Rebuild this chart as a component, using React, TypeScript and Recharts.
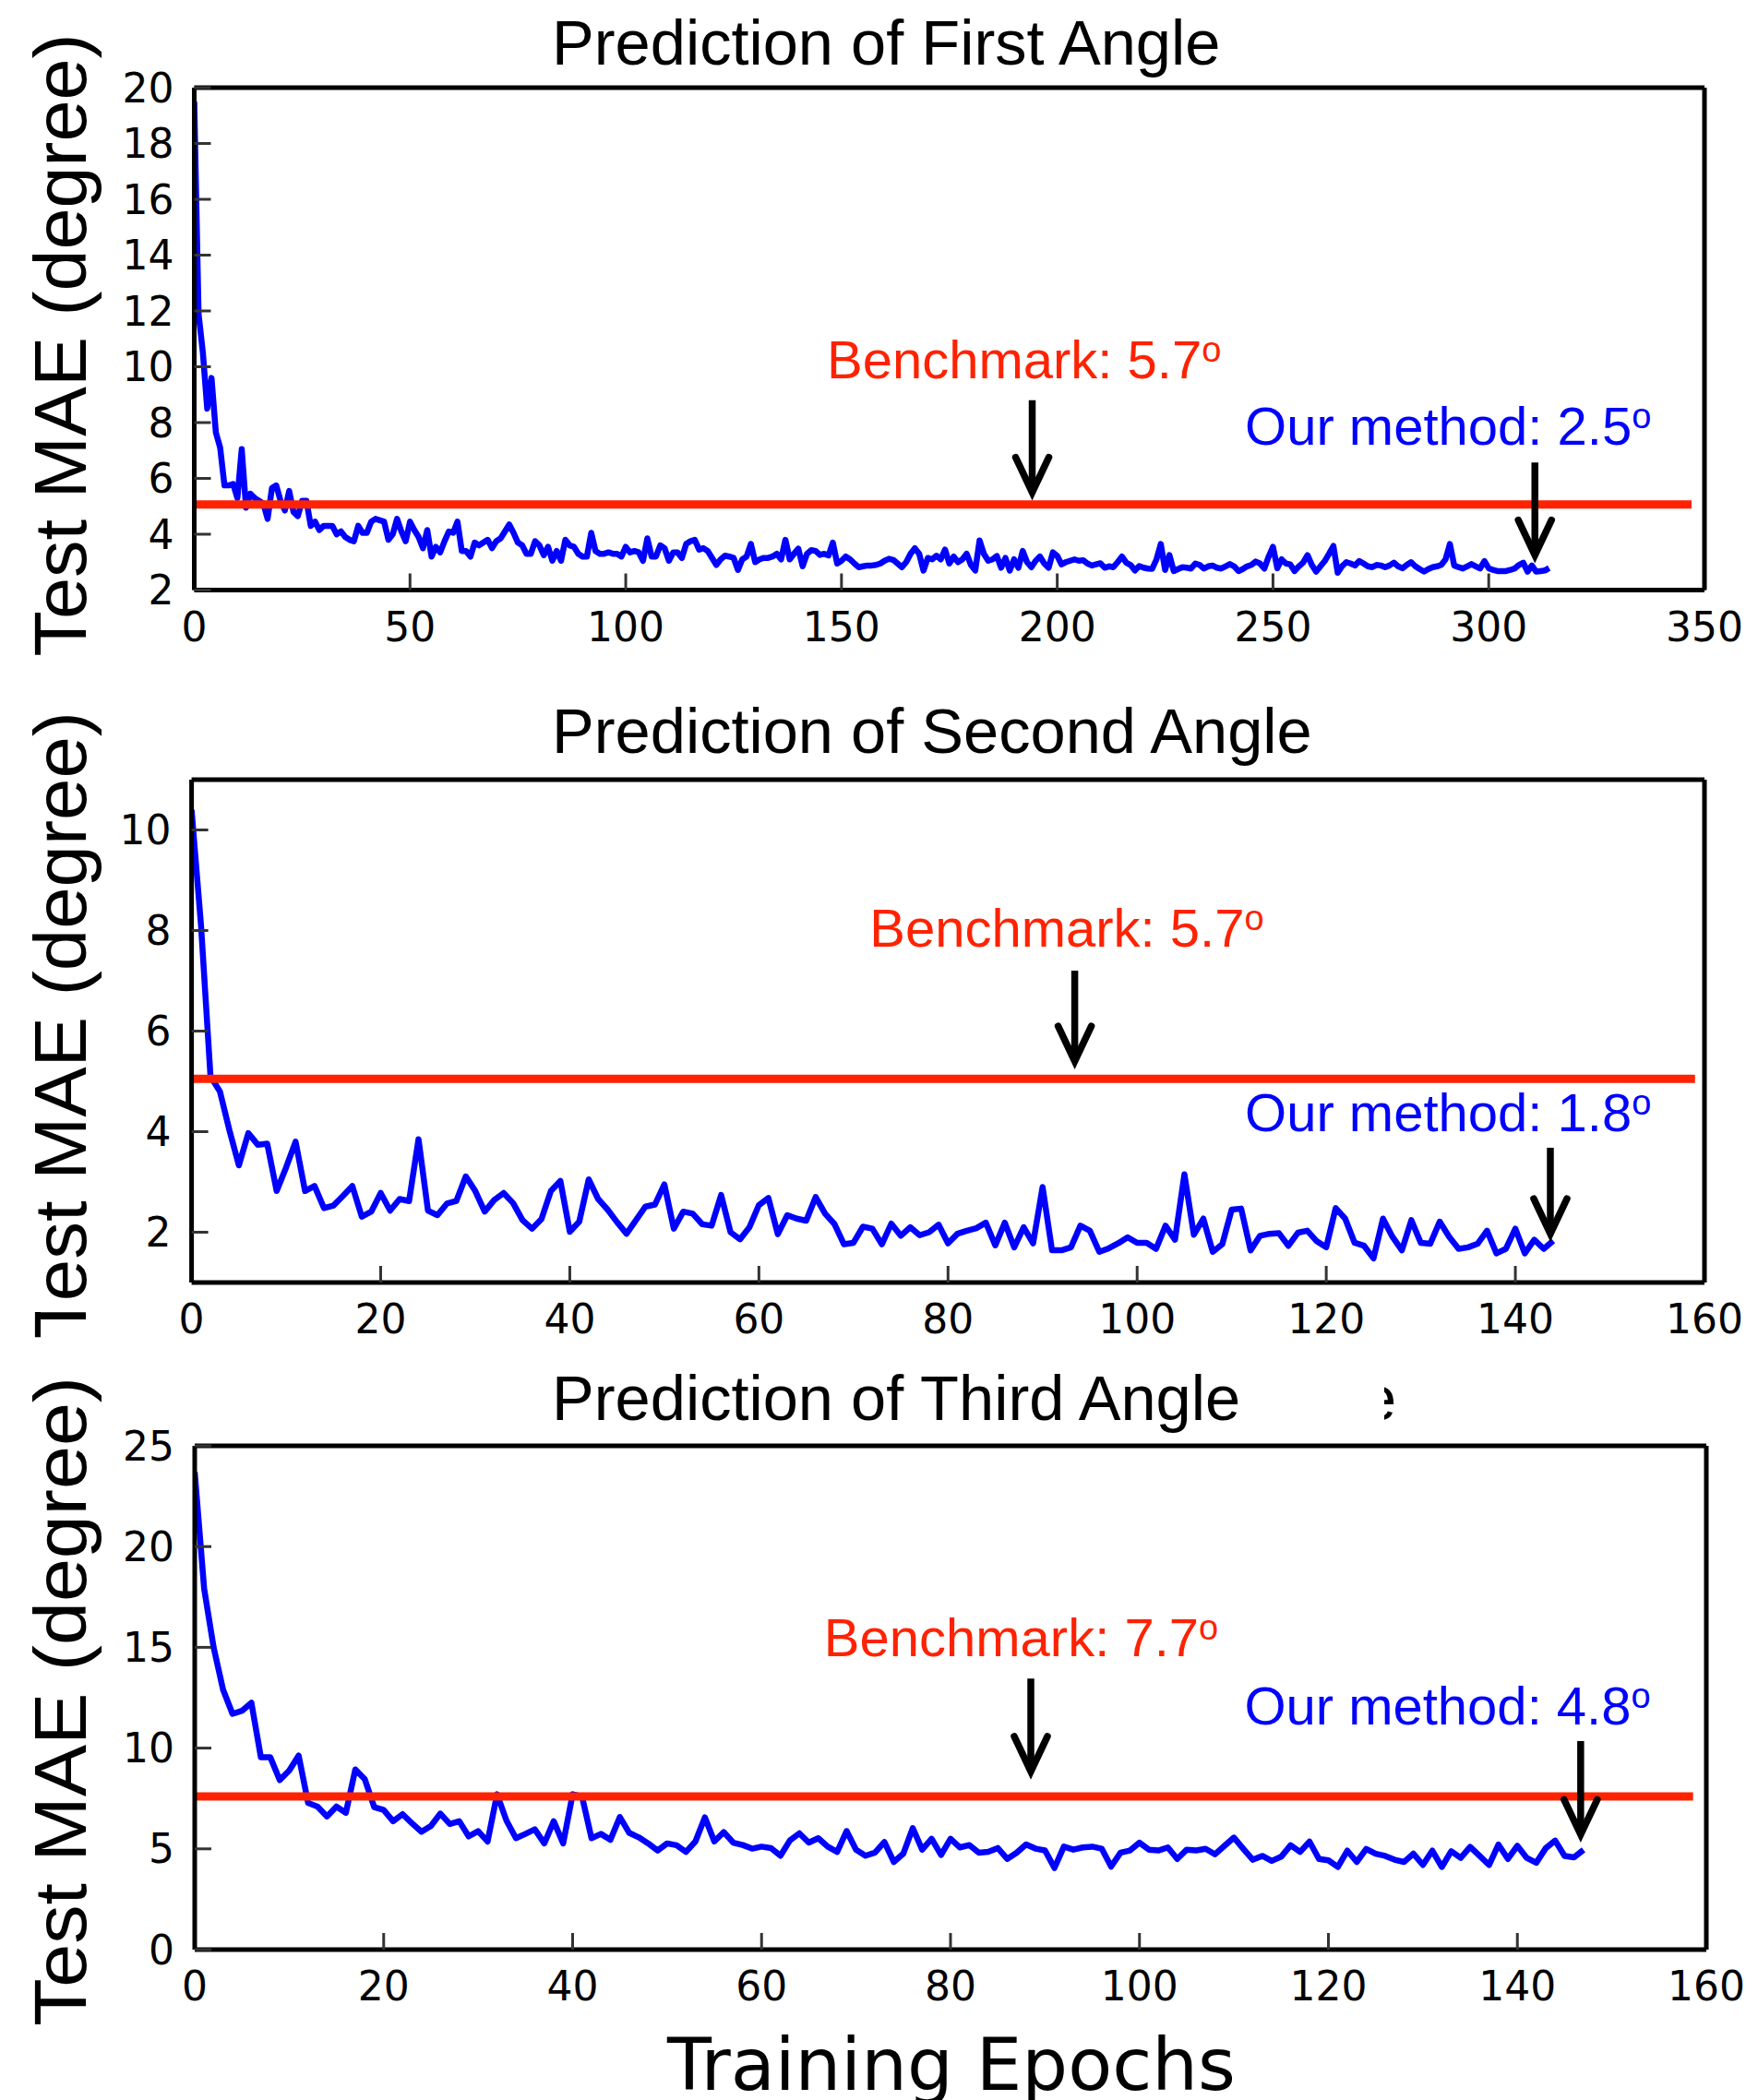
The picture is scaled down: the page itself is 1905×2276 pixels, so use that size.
import React from 'react';
import { LineChart, Line, XAxis, YAxis, ReferenceLine, ReferenceDot } from 'recharts';

// ---------- data ----------
const mae1 = [
  19.5, 11.9, 10.5, 8.5, 9.6, 7.65, 7.1, 5.75, 5.75, 5.8,
  5.3, 7.05, 4.95, 5.45, 5.3, 5.2, 5.1, 4.55, 5.65, 5.75,
  5.2, 4.85, 5.55, 4.8, 4.65, 5.2, 5.2, 4.3, 4.45, 4.15,
  4.3, 4.3, 4.3, 4.0, 4.1, 3.9, 3.8, 3.75, 4.3, 4.05,
  4.05, 4.45, 4.55, 4.5, 4.45, 3.8, 4.0, 4.55, 4.1, 3.75,
  4.45, 4.15, 3.9, 3.5, 4.15, 3.2, 3.55, 3.35, 3.75, 4.1,
  4.05, 4.45, 3.4, 3.4, 3.2, 3.7, 3.6, 3.7, 3.8, 3.5,
  3.75, 3.85, 4.1, 4.35, 4.05, 3.7, 3.6, 3.3, 3.3, 3.75,
  3.6, 3.25, 3.55, 3.05, 3.4, 3.05, 3.8, 3.6, 3.55, 3.3,
  3.2, 3.2, 4.05, 3.4, 3.3, 3.3, 3.35, 3.3, 3.3, 3.2,
  3.55, 3.35, 3.4, 3.35, 3.05, 3.85, 3.2, 3.2, 3.6, 3.5,
  3.05, 3.35, 3.35, 3.15, 3.65, 3.75, 3.8, 3.45, 3.5, 3.4,
  3.15, 2.9, 3.1, 3.23, 3.2, 3.15, 2.72, 3.1, 3.2, 3.65,
  3.0, 3.1, 3.15, 3.15, 3.2, 3.3, 3.1, 3.8, 3.1, 3.3,
  3.48, 2.85, 3.3, 3.43, 3.4, 3.26, 3.3, 3.24, 3.7, 2.95,
  3.05, 3.2, 3.1, 2.95, 2.82, 2.85, 2.88, 2.88, 2.9, 2.95,
  3.05, 3.12, 3.08, 2.95, 2.82, 3.0, 3.3, 3.5, 3.3, 2.7,
  3.15, 3.1, 3.23, 3.1, 3.45, 2.95, 3.2, 3.0, 3.1, 3.3,
  2.9, 2.7, 3.78, 3.3, 3.05, 3.1, 3.22, 2.8, 3.15, 2.7,
  3.1, 2.8, 3.4, 3.0, 2.82, 3.05, 3.2, 2.95, 2.8, 3.35,
  3.22, 2.92, 3.0, 3.05, 3.1, 3.05, 3.07, 2.95, 2.88, 2.92,
  2.96, 2.8, 2.85, 2.82, 3.0, 3.2, 2.98, 2.9, 2.7, 2.86,
  2.8, 2.77, 2.76, 3.1, 3.65, 2.72, 3.25, 2.68, 2.75, 2.82,
  2.8, 2.77, 2.95, 2.9, 2.77, 2.85, 2.88, 2.8, 2.77, 2.85,
  2.93, 2.85, 2.68, 2.75, 2.85, 2.9, 3.02, 2.95, 2.77, 3.2,
  3.55, 2.78, 3.1, 2.95, 2.92, 2.68, 2.85, 2.99, 3.25, 2.9,
  2.66, 2.85, 3.04, 3.3, 3.58, 2.62, 2.85, 3.0, 2.95, 2.88,
  3.04, 2.95, 2.85, 2.82, 2.9, 2.88, 2.82, 2.88, 2.98, 2.85,
  2.78, 2.9, 3.0, 2.85, 2.75, 2.66, 2.75, 2.82, 2.85, 2.9,
  3.1, 3.65, 2.88, 2.82, 2.77, 2.85, 2.93, 2.85, 2.77, 3.04,
  2.78, 2.72, 2.68, 2.68, 2.68, 2.72, 2.77, 2.9, 2.98, 2.66,
  2.88, 2.66, 2.68, 2.7, 2.79,
];

const mae2 = [
  10.4, 8.1, 5.1, 4.8, 4.03, 3.33, 3.97, 3.74, 3.76, 2.82,
  3.29, 3.8, 2.82, 2.92, 2.48, 2.53, 2.72, 2.92, 2.31, 2.41,
  2.78, 2.43, 2.66, 2.62, 3.85, 2.43, 2.34, 2.57, 2.62, 3.11,
  2.82, 2.41, 2.64, 2.78, 2.58, 2.24, 2.07, 2.26, 2.82, 3.02,
  2.01, 2.21, 3.05, 2.66, 2.45, 2.2, 1.97, 2.24, 2.51, 2.55,
  2.95, 2.07, 2.41, 2.37, 2.16, 2.13, 2.74, 2.0, 1.86, 2.1,
  2.54, 2.68, 1.96, 2.34, 2.27, 2.23, 2.7, 2.37, 2.16, 1.76,
  1.79, 2.11, 2.07, 1.76, 2.17, 1.93, 2.1, 1.94, 2.0, 2.15,
  1.78, 1.97, 2.03, 2.08, 2.19, 1.74, 2.19, 1.7, 2.1, 1.78,
  2.9, 1.64, 1.64, 1.7, 2.13, 2.03, 1.61, 1.68, 1.78, 1.9,
  1.79, 1.79, 1.67, 2.13, 1.85, 3.15, 1.95, 2.27, 1.61, 1.76,
  2.45, 2.47, 1.64, 1.93, 1.97, 1.98, 1.73, 1.99, 2.03, 1.82,
  1.7, 2.48, 2.27, 1.79, 1.73, 1.48, 2.27, 1.91, 1.64, 2.24,
  1.79, 1.77, 2.21, 1.91, 1.67, 1.7, 1.77, 2.03, 1.58, 1.67,
  2.07, 1.58, 1.85, 1.67, 1.83,
];

const mae3 = [
  23.7, 17.9, 15.0, 12.9, 11.7, 11.85, 12.25, 9.55, 9.55, 8.41,
  8.88, 9.63, 7.28, 7.1, 6.61, 7.1, 6.79, 8.94, 8.46, 7.07,
  6.93, 6.37, 6.72, 6.27, 5.85, 6.14, 6.75, 6.23, 6.37, 5.62,
  5.88, 5.36, 7.71, 6.4, 5.53, 5.74, 5.97, 5.27, 6.37, 5.27,
  7.71, 7.59, 5.53, 5.74, 5.45, 6.58, 5.79, 5.57, 5.27, 4.92,
  5.27, 5.18, 4.85, 5.37, 6.56, 5.37, 5.83, 5.31, 5.19, 5.01,
  5.11, 5.04, 4.66, 5.42, 5.77, 5.31, 5.53, 5.11, 4.85, 5.88,
  4.96, 4.66, 4.81, 5.34, 4.35, 4.76, 6.03, 4.96, 5.5, 4.7,
  5.5, 5.07, 5.19, 4.81, 4.85, 5.04, 4.5, 4.81, 5.22, 5.01,
  4.92, 4.05, 5.11, 4.96, 5.07, 5.11, 5.01, 4.12, 4.81, 4.92,
  5.31, 4.96, 4.92, 5.07, 4.5, 4.96, 4.92, 5.0, 4.73, 5.15,
  5.56, 5.0, 4.46, 4.65, 4.4, 4.61, 5.18, 4.85, 5.36, 4.5,
  4.43, 4.1, 4.91, 4.35, 5.0, 4.76, 4.65, 4.46, 4.35, 4.76,
  4.2, 4.91, 4.1, 4.88, 4.55, 5.1, 4.65, 4.2, 5.21, 4.5,
  5.15, 4.55, 4.31, 5.03, 5.41, 4.65, 4.58, 4.95,
];

const xTicks1 = [0, 50, 100, 150, 200, 250, 300, 350];
const yTicks1 = [2, 4, 6, 8, 10, 12, 14, 16, 18, 20];
const xTicks23 = [0, 20, 40, 60, 80, 100, 120, 140, 160];
const yTicks2 = [2, 4, 6, 8, 10];
const yTicks3 = [0, 5, 10, 15, 20, 25];

const titles = ['Prediction of First Angle', 'Prediction of Second Angle', 'Prediction of Third Angle'];
const benchmarkLevels = [5.07, 5.05, 7.6];
const benchmarkLabels = ['5.7', '5.7', '7.7'];
const ourLabels = ['2.5', '1.8', '4.8'];
const yLabel = 'Test MAE (degree)';
const xLabel = 'Training Epochs';

// ---------- panel configuration (layout) ----------
const panels = [
  {
    values: mae1, xDomain: [0, 350], xTicks: xTicks1, yDomain: [2, 20], yTicks: yTicks1,
    box: { L: 210.5, R: 1847, T: 94.5, B: 639 }, benchEnd: 347,
    benchText: [146.6, 9.58], benchArrow: [194.2, 8.8, 5.5],
    ourText: [243.5, 7.2], ourArrow: [310.7, 6.57, 3.25],
  },
  {
    values: mae2, xDomain: [0, 160], xTicks: xTicks23, yDomain: [1, 11], yTicks: yTicks2,
    box: { L: 207.6, R: 1847, T: 845, B: 1390 }, benchEnd: 159,
    benchText: [71.7, 7.68], benchArrow: [93.4, 7.2, 5.4],
    ourText: [111.4, 4.01], ourArrow: [143.7, 3.68, 1.97],
  },
  {
    values: mae3, xDomain: [0, 160], xTicks: xTicks23, yDomain: [0, 25], yTicks: yTicks3,
    box: { L: 211, R: 1849, T: 1567, B: 2113 }, benchEnd: 158.6,
    benchText: [66.6, 14.56], benchArrow: [88.5, 13.45, 8.84],
    ourText: [111.1, 11.17], ourArrow: [146.7, 10.35, 5.71],
  },
];

const W = 1905;
const RED = '#ff2200';
const BLUE = '#0000ff';
const SANS = 'Liberation Sans, Arial, sans-serif';
const tickFont = { fill: '#000', fontSize: 44, fontFamily: 'DejaVu Sans' };
const tickLineStyle = { stroke: '#333', strokeWidth: 3 };
const frame = { stroke: '#000', strokeWidth: 5 };

const Arrow = (props: any) => {
  const { x1, y1, x2, y2 } = props;
  return (
    <g>
      <line x1={x1} y1={y1} x2={x2} y2={y2 - 6} stroke="#000" strokeWidth={7.5} />
      <path
        d={`M ${x2 - 18} ${y2 - 38} L ${x2} ${y2} L ${x2 + 18} ${y2 - 38}`}
        fill="none" stroke="#000" strokeWidth={7.5} strokeLinecap="round" strokeLinejoin="miter"
      />
    </g>
  );
};

const makeLabel = (head: string, value: string, color: string) => (p: any) => (
  <text x={p.cx} y={p.cy} fontFamily={SANS} fontSize={58} fill={color}>
    {head}
    {value}
    <tspan fontSize={38} dy={-18}>o</tspan>
  </text>
);

function Panel({ cfg, idx }: { cfg: any; idx: number }) {
  const data = cfg.values.map((v: number, i: number) => ({ epoch: i, mae: v }));
  const { L, R, T, B } = cfg.box;
  const topH = 40;
  const botH = 90;
  const height = B - T + topH + botH;
  const bench = benchmarkLevels[idx];
  return (
    <div style={{ position: 'absolute', left: 0, top: T - topH }}>
      <LineChart width={W} height={height} data={data} margin={{ top: 0, right: 0, bottom: 0, left: 0 }}>
        <XAxis
          xAxisId="b" dataKey="epoch" type="number" domain={cfg.xDomain} ticks={cfg.xTicks}
          interval={0} orientation="bottom" height={botH} tickSize={-18} tickMargin={42}
          tick={tickFont} tickLine={tickLineStyle} axisLine={frame} allowDataOverflow
        />
        <XAxis
          xAxisId="t" dataKey="epoch" type="number" domain={cfg.xDomain} ticks={cfg.xTicks}
          interval={0} orientation="top" height={topH} tickSize={-18}
          tick={false} tickLine={tickLineStyle} axisLine={frame} allowDataOverflow
        />
        <YAxis
          yAxisId="l" type="number" domain={cfg.yDomain} ticks={cfg.yTicks} interval={0}
          orientation="left" width={L} tickSize={-18} tickMargin={40}
          tick={tickFont} tickLine={tickLineStyle} axisLine={frame} allowDataOverflow
        />
        <YAxis
          yAxisId="r" type="number" domain={cfg.yDomain} ticks={cfg.yTicks} interval={0}
          orientation="right" width={W - R} tickSize={-18}
          tick={false} tickLine={tickLineStyle} axisLine={frame} allowDataOverflow
        />
        <Line
          xAxisId="b" yAxisId="l" type="linear" dataKey="mae" stroke={BLUE} strokeWidth={6.5}
          strokeLinejoin="round" dot={false} activeDot={false} isAnimationActive={false}
        />
        <ReferenceLine
          xAxisId="b" yAxisId="l"
          segment={[{ x: 0, y: bench }, { x: cfg.benchEnd, y: bench }]}
          stroke={RED} strokeWidth={9}
        />
        <ReferenceLine
          xAxisId="b" yAxisId="l"
          segment={[{ x: cfg.benchArrow[0], y: cfg.benchArrow[1] }, { x: cfg.benchArrow[0], y: cfg.benchArrow[2] }]}
          shape={Arrow}
        />
        <ReferenceLine
          xAxisId="b" yAxisId="l"
          segment={[{ x: cfg.ourArrow[0], y: cfg.ourArrow[1] }, { x: cfg.ourArrow[0], y: cfg.ourArrow[2] }]}
          shape={Arrow}
        />
        <ReferenceDot
          xAxisId="b" yAxisId="l" x={cfg.benchText[0]} y={cfg.benchText[1]} r={0}
          shape={makeLabel('Benchmark: ', benchmarkLabels[idx], RED)}
        />
        <ReferenceDot
          xAxisId="b" yAxisId="l" x={cfg.ourText[0]} y={cfg.ourText[1]} r={0}
          shape={makeLabel('Our method: ', ourLabels[idx], BLUE)}
        />
      </LineChart>
    </div>
  );
}

const titleBaselines = [70, 816, 1539];
const yLabelCenters = [374, 1111, 1844];
const yLabelLengths = [675, 680, 704];

export default function App() {
  return (
    <div style={{ position: 'absolute', left: 0, top: 0, width: W, height: 2276, background: '#fff', overflow: 'hidden' }}>
      {panels.map((cfg, i) => (
        <Panel key={i} cfg={cfg} idx={i} />
      ))}
      <svg width={W} height={2276} style={{ position: 'absolute', left: 0, top: 0, pointerEvents: 'none' }}>
        <defs>
          <clipPath id="fragClip">
            <rect x={1500} y={1490} width={16} height={60} />
          </clipPath>
        </defs>
        {titles.map((t, i) => (
          <text key={t} x={598} y={titleBaselines[i]} fontFamily={SANS} fontSize={68.6} fill="#000">
            {t}
          </text>
        ))}
        {/* remnant of a covered glyph next to the third title */}
        <text x={1475} y={1539} fontFamily={SANS} fontSize={68.6} fill="#000" clipPath="url(#fragClip)">
          e
        </text>
        {yLabelCenters.map((c, i) => (
          <text
            key={i} x={0} y={0} transform={`translate(93 ${c}) rotate(-90)`} textAnchor="middle"
            fontFamily={SANS} fontSize={80} fill="#000"
            textLength={yLabelLengths[i]} lengthAdjust="spacingAndGlyphs"
          >
            {yLabel}
          </text>
        ))}
        {/* the second label's first letter is partly covered in the original figure */}
        <rect x={28} y={1397} width={19} height={25} fill="#fff" />
        <text x={1031} y={2265} textAnchor="middle" fontFamily="DejaVu Sans" fontSize={78.5} fill="#000">
          {xLabel}
        </text>
      </svg>
    </div>
  );
}
